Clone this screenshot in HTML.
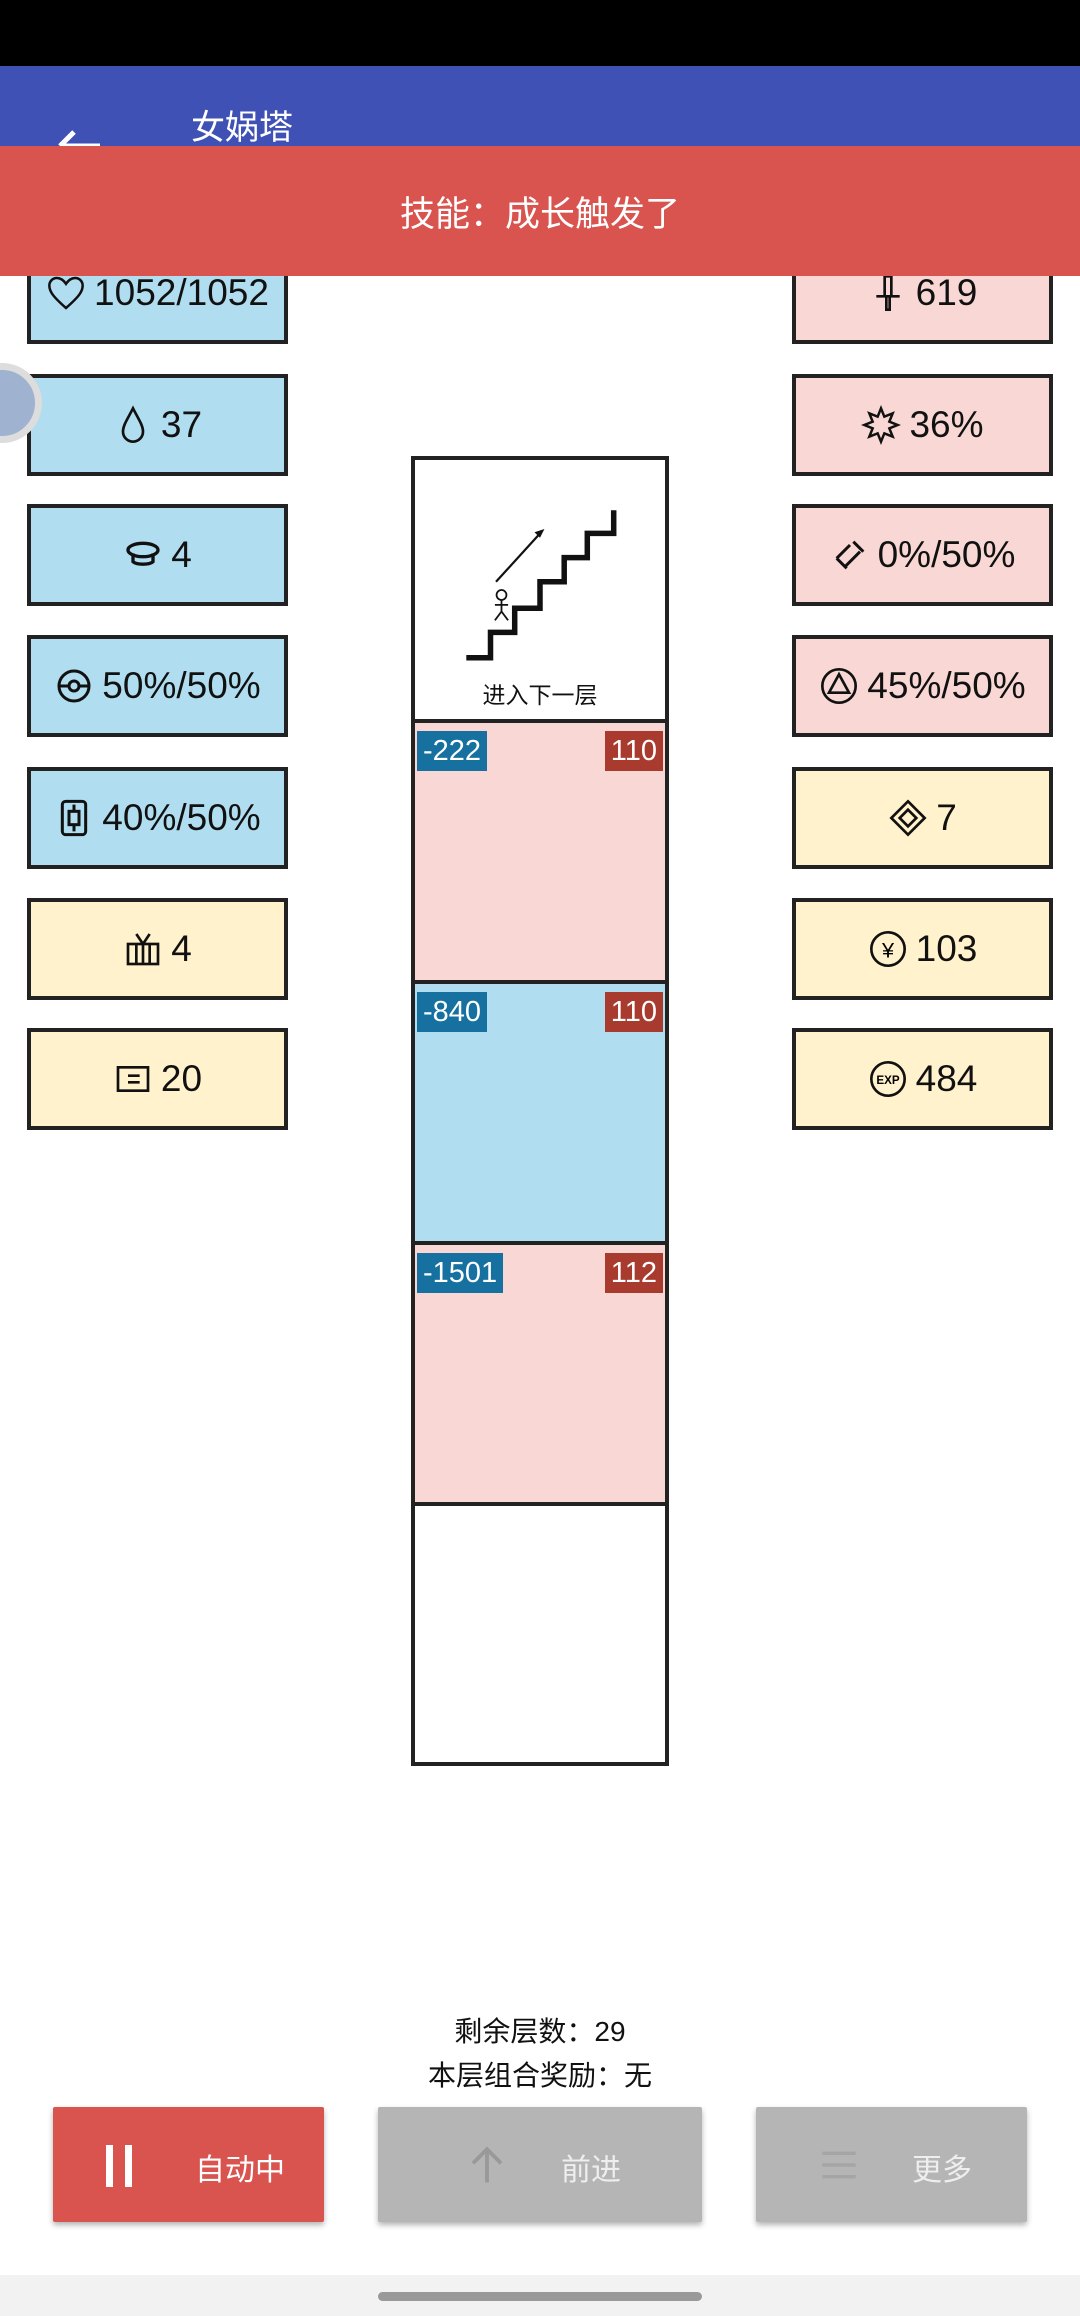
<!DOCTYPE html>
<html><head><meta charset="utf-8"><style>
*{margin:0;padding:0;box-sizing:border-box}
body{width:1080px;height:2316px;position:relative;background:#fff;font-family:"Liberation Sans","Noto Sans CJK SC",sans-serif;overflow:hidden}
.a{position:absolute}
.box{position:absolute;width:261px;height:102px;border:4px solid #222;display:flex;align-items:center;justify-content:center;font-size:37px;color:#111;gap:8px}
.L{left:27px}.R{left:792px}
.bl{background:#b0ddf0}.pk{background:#f8d7d4}.yl{background:#fff2cc}
.box svg{width:40px;height:40px}
.cell{position:absolute;left:411px;width:258px;border:4px solid #222}
.bd{position:absolute;top:8px;height:40px;color:#fff;font-size:29px;line-height:40px;padding:0 6px}
.btn{position:absolute;top:2107px;height:115px;box-shadow:0 3px 6px rgba(0,0,0,.3);border-radius:2px;color:#fff;font-size:30px}
.ban{position:absolute;left:0;top:146px;width:1080px;height:130px;background:#d9534f;color:#fff;font-size:35px;text-align:center;line-height:138px}
</style></head><body>
<div class="a" style="left:0;top:0;width:1080px;height:66px;background:#000"></div>
<div class="a" style="left:0;top:66px;width:1080px;height:82px;background:#3f51b5"></div>
<svg class="a" style="left:56px;top:118px" width="50" height="40" viewBox="0 0 50 40"><path d="M4 28h40M4 28l14-14" stroke="#fff" stroke-width="5" fill="none"/></svg>
<div class="a" style="left:191px;top:100px;color:#fff;font-size:34px">女娲塔</div>

<div class="box L bl" style="top:242px"><svg viewBox="0 0 24 24"><path d="M12 21C4 14 2 11 2 7.5 2 5 4 3 6.5 3 9 3 11 5 12 6.5 13 5 15 3 17.5 3 20 3 22 5 22 7.5 22 11 20 14 12 21Z" fill="none" stroke="#111" stroke-width="1.5"/></svg>1052/1052</div>
<div class="box R pk" style="top:242px"><svg viewBox="0 0 24 24"><path d="M10 2h4v12h-4zM5 14h14M11 14v8h2v-8" fill="none" stroke="#111" stroke-width="1.6"/></svg>619</div>
<div class="ban">技能：成长触发了</div>

<div class="box L bl" style="top:374px"><svg viewBox="0 0 24 24"><path d="M12 2C9 8 6 12 6 16a6 6 0 0 0 12 0c0-4-3-8-6-14Z" fill="none" stroke="#111" stroke-width="1.6"/></svg>37</div>
<div class="box L bl" style="top:504px"><svg viewBox="0 0 24 24"><ellipse cx="12" cy="9" rx="9" ry="4" fill="none" stroke="#111" stroke-width="2"/><path d="M6 11v5c2 2 10 2 12 0v-5" fill="none" stroke="#111" stroke-width="2"/></svg>4</div>
<div class="box L bl" style="top:635px"><svg viewBox="0 0 24 24"><circle cx="12" cy="12" r="9" fill="none" stroke="#111" stroke-width="1.8"/><path d="M3 12h6M15 12h6" stroke="#111" stroke-width="1.8"/><circle cx="12" cy="12" r="3" fill="none" stroke="#111" stroke-width="1.8"/></svg>50%/50%</div>
<div class="box L bl" style="top:767px"><svg viewBox="0 0 24 24"><rect x="5" y="2" width="14" height="20" rx="2" fill="none" stroke="#111" stroke-width="1.8"/><rect x="9" y="8" width="6" height="8" fill="none" stroke="#111" stroke-width="1.8"/><path d="M12 4v4M12 16v4" stroke="#111" stroke-width="1.8"/></svg>40%/50%</div>
<div class="box L yl" style="top:898px"><svg viewBox="0 0 24 24"><rect x="3" y="9" width="18" height="12" fill="none" stroke="#111" stroke-width="1.6"/><path d="M8 9v12M12 9v12M16 9v12M8 3l4 6 4-6" fill="none" stroke="#111" stroke-width="1.6"/></svg>4</div>
<div class="box L yl" style="top:1028px"><svg viewBox="0 0 24 24"><rect x="3" y="5" width="18" height="14" fill="none" stroke="#111" stroke-width="1.6"/><path d="M9 10h7M9 14h7" stroke="#111" stroke-width="1.6"/></svg>20</div>

<div class="box R pk" style="top:374px"><svg viewBox="0 0 24 24"><path d="M12 2l2 5 5-2-2 5 5 2-5 2 2 5-5-2-2 5-2-5-5 2 2-5-5-2 5-2-2-5 5 2z" fill="none" stroke="#111" stroke-width="1.5"/></svg>36%</div>
<div class="box R pk" style="top:504px"><svg viewBox="0 0 24 24"><path d="M4 14l8-8M4 14l6 6M9 19l9-9M14 4l6 6" fill="none" stroke="#111" stroke-width="1.8"/></svg>0%/50%</div>
<div class="box R pk" style="top:635px"><svg viewBox="0 0 24 24"><circle cx="12" cy="12" r="10" fill="none" stroke="#111" stroke-width="1.6"/><path d="M12 5l-6 11h12z" fill="none" stroke="#111" stroke-width="1.6"/></svg>45%/50%</div>
<div class="box R yl" style="top:767px"><svg viewBox="0 0 24 24"><path d="M12 2l10 10-10 10L2 12z" fill="none" stroke="#111" stroke-width="1.6"/><path d="M12 7l5 5-5 5-5-5z" fill="none" stroke="#111" stroke-width="1.6"/></svg>7</div>
<div class="box R yl" style="top:898px"><svg viewBox="0 0 24 24"><circle cx="12" cy="12" r="10" fill="none" stroke="#111" stroke-width="1.6"/><text x="12" y="17" font-size="13" text-anchor="middle" font-family="Liberation Sans">¥</text></svg>103</div>
<div class="box R yl" style="top:1028px"><svg viewBox="0 0 24 24"><circle cx="12" cy="12" r="10" fill="none" stroke="#111" stroke-width="1.6"/><text x="12" y="15" font-size="7" font-weight="bold" text-anchor="middle" font-family="Liberation Sans">EXP</text></svg>484</div>

<div class="cell" style="top:456px;height:267px;background:#fff">
<svg class="a" style="left:-415px;top:-460px" width="1080" height="800"><g transform="translate(0,4) translate(540,580) scale(1.1) translate(-540,-580)">
<polyline points="473,647 495,647 495,624 517,624 517,602 540,602 540,578 562,578 562,556 583,556 583,534 607,534 607,513" fill="none" stroke="#111" stroke-width="5"/>
<line x1="500" y1="578" x2="541" y2="533" stroke="#111" stroke-width="2"/><path d="M544 530l-9 3 5 5z" fill="#111"/>
<circle cx="505" cy="590" r="4.5" fill="none" stroke="#111" stroke-width="1.6"/>
<path d="M505 595v10M499 599h12M505 605l-6 8M505 605l6 8" stroke="#111" stroke-width="1.6" fill="none"/>
</g></svg>
<div class="a" style="left:0;width:250px;top:216px;text-align:center;font-size:23px;color:#111">进入下一层</div>
</div>
<div class="cell" style="top:719px;height:265px;background:#f8d7d4"><div class="bd" style="left:2px;background:#1670a0">-222</div><div class="bd" style="right:2px;background:#a93b2e">110</div></div>
<div class="cell" style="top:980px;height:265px;background:#b0ddf0"><div class="bd" style="left:2px;background:#1670a0">-840</div><div class="bd" style="right:2px;background:#a93b2e">110</div></div>
<div class="cell" style="top:1241px;height:265px;background:#f8d7d4"><div class="bd" style="left:2px;background:#1670a0">-1501</div><div class="bd" style="right:2px;background:#a93b2e">112</div></div>
<div class="cell" style="top:1502px;height:264px;background:#fff"></div>

<div class="a" style="left:0;top:363px;width:42px;height:80px;overflow:hidden"><div style="position:absolute;left:-38px;top:0;width:80px;height:80px;border-radius:50%;border:7px solid #ddd;background:#9fb3d0"></div></div>

<div class="a" style="left:0;width:1080px;top:2010px;text-align:center;font-size:28px;color:#111">剩余层数：29</div>
<div class="a" style="left:0;width:1080px;top:2054px;text-align:center;font-size:28px;color:#111">本层组合奖励：无</div>

<div class="btn" style="left:53px;width:271px;background:#d9534f"><div class="a" style="left:53px;top:38px;width:7px;height:42px;background:#fff"></div><div class="a" style="left:72px;top:38px;width:7px;height:42px;background:#fff"></div><div class="a" style="left:142px;top:38px">自动中</div></div>
<div class="btn" style="left:378px;width:324px;background:#b5b5b5;color:#eee"><svg class="a" style="left:88px;top:36px" width="42" height="44" viewBox="0 0 24 24"><path d="M12 3v19M4 11l8-8 8 8" fill="none" stroke="#999" stroke-width="2.2"/></svg><div class="a" style="left:183px;top:38px">前进</div></div>
<div class="btn" style="left:756px;width:271px;background:#b5b5b5;color:#eee"><svg class="a" style="left:62px;top:38px" width="42" height="40" viewBox="0 0 24 24"><path d="M2 5h20M2 12h20M2 19h20" stroke="#a5a5a5" stroke-width="2"/></svg><div class="a" style="left:156px;top:38px">更多</div></div>

<div class="a" style="left:0;top:2275px;width:1080px;height:41px;background:#f2f2f2"></div>
<div class="a" style="left:378px;top:2292px;width:324px;height:9px;border-radius:5px;background:#999"></div>
</body></html>
